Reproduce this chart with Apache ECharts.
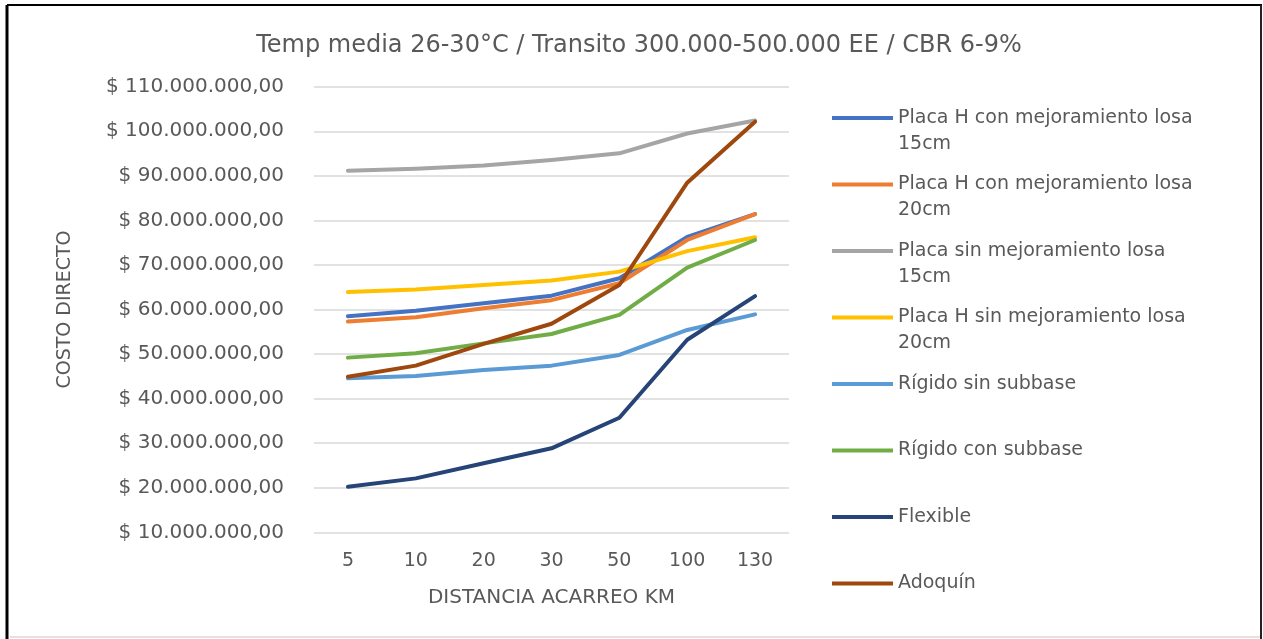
<!DOCTYPE html>
<html>
<head>
<meta charset="utf-8">
<script src="https://cdn.jsdelivr.net/npm/echarts@6/dist/echarts.min.js"></script>
<style>
html,body{margin:0;padding:0;background:#fff;}
#chart{width:1263px;height:639px;}
</style>
</head>
<body>
<div id="chart"></div>
<script>
const categories = ['5', '10', '20', '30', '50', '100', '130'];

const placaHConMej15 = [58.5, 59.7, 61.4, 63.1, 67.0, 76.3, 81.4];
const placaHConMej20 = [57.3, 58.25, 60.3, 62.1, 65.9, 75.6, 81.4];
const placaSinMej15 = [91.15, 91.6, 92.3, 93.55, 95.05, 99.5, 102.4];
const placaHSinMej20 = [63.9, 64.5, 65.5, 66.5, 68.5, 73.1, 76.2];
const rigidoSinSubbase = [44.55, 45.1, 46.4, 47.4, 49.8, 55.4, 58.9];
const rigidoConSubbase = [49.2, 50.2, 52.4, 54.5, 58.8, 69.4, 75.6];
const flexible = [20.2, 22.1, 25.5, 28.85, 35.7, 53.2, 63.0];
const adoquin = [44.9, 47.4, 52.3, 56.8, 65.5, 88.45, 102.15];

const seriesNames = [
  'Placa H con mejoramiento losa 15cm',
  'Placa H con mejoramiento losa 20cm',
  'Placa sin mejoramiento losa 15cm',
  'Placa H sin mejoramiento losa 20cm',
  'Rígido sin subbase',
  'Rígido con subbase',
  'Flexible',
  'Adoquín'
];
const seriesValues = [placaHConMej15, placaHConMej20, placaSinMej15, placaHSinMej20,
  rigidoSinSubbase, rigidoConSubbase, flexible, adoquin];
const seriesColors = ['#4472C4', '#ED7D31', '#A5A5A5', '#FFC000', '#5B9BD5', '#70AD47', '#264478', '#9E480E'];

const titleText = 'Temp media 26-30°C / Transito 300.000-500.000 EE / CBR 6-9%';
const xName = 'DISTANCIA ACARREO KM';
const yName = 'COSTO DIRECTO';

const FONT = 'DejaVu Sans';
const TXT = '#595959';

function fmtMoney(v) {
  const s = Math.round(v).toString().replace(/\B(?=(\d{3})+(?!\d))/g, '.');
  return '$ ' + s + ',00';
}

const chart = echarts.init(document.getElementById('chart'));
chart.setOption({
  animation: false,
  backgroundColor: '#fff',
  title: {
    text: titleText,
    left: 634,
    textAlign: 'center',
    top: 29,
    textStyle: { fontFamily: FONT, fontSize: 24, fontWeight: 'normal', color: TXT }
  },
  grid: { left: 314, top: 86.7, width: 475, height: 445.6 },
  legend: {
    orient: 'vertical',
    left: 827,
    top: 74,
    itemWidth: 61,
    itemHeight: 4,
    itemGap: -11.5,
    icon: 'rect',
    data: seriesNames,
    textStyle: { fontFamily: FONT, fontSize: 19, color: TXT, lineHeight: 26 },
    formatter: function (name) {
      if (name.indexOf(' losa ') >= 0) return '\n' + name.replace(' losa ', ' losa\n');
      return '\n' + name + '\n ';
    }
  },
  xAxis: {
    type: 'category',
    data: categories,
    boundaryGap: true,
    axisLine: { show: false },
    axisTick: { show: false },
    axisLabel: { fontFamily: FONT, fontSize: 19, color: TXT, margin: 19 },
    name: xName,
    nameLocation: 'middle',
    nameGap: 55,
    nameTextStyle: { fontFamily: FONT, fontSize: 20, color: TXT }
  },
  yAxis: {
    type: 'value',
    min: 10000000,
    max: 110000000,
    interval: 10000000,
    axisLine: { show: false },
    axisTick: { show: false },
    splitLine: { lineStyle: { color: '#D9D9D9', width: 1.5 } },
    axisLabel: { fontFamily: FONT, fontSize: 20, color: TXT, margin: 30, formatter: fmtMoney },
    name: yName,
    nameLocation: 'middle',
    nameGap: 239,
    nameTextStyle: { fontFamily: FONT, fontSize: 19, color: TXT }
  },
  series: seriesNames.map((n, i) => ({
    name: n,
    type: 'line',
    data: seriesValues[i].map(v => v * 1000000),
    symbol: 'none',
    lineStyle: { width: 4, color: seriesColors[i], cap: 'round', join: 'round' },
    itemStyle: { color: seriesColors[i] }
  })),
  graphic: [
    { type: 'line', shape: { x1: 7, y1: 5, x2: 1262, y2: 5 }, style: { stroke: '#000', lineWidth: 2 } },
    { type: 'line', shape: { x1: 7, y1: 5, x2: 7, y2: 639 }, style: { stroke: '#000', lineWidth: 3 } },
    { type: 'line', shape: { x1: 1261, y1: 5, x2: 1261, y2: 639 }, style: { stroke: '#222', lineWidth: 2 } },
    { type: 'line', shape: { x1: 10, y1: 637, x2: 1260, y2: 637 }, style: { stroke: '#D9D9D9', lineWidth: 1.5 } }
  ]
});
</script>
</body>
</html>
